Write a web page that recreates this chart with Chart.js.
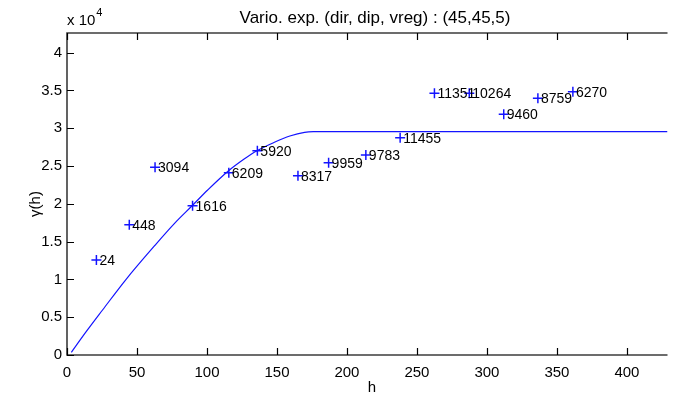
<!DOCTYPE html>
<html>
<head>
<meta charset="utf-8">
<script src="https://cdn.jsdelivr.net/npm/chart.js@4"></script>
<style>
html,body{margin:0;padding:0;background:#fff;}
canvas{display:block;}
</style>
</head>
<body>
<canvas id="c" width="674" height="402"></canvas>
<script>
// Experimental variogram points (lag distance h, gamma(h)) and pair counts
const lagH = [21.0, 44.5, 62.9, 89.7, 115.6, 136.0, 165.0, 186.9, 213.5, 238.0, 262.5, 287.4, 312.0, 336.4, 361.4];
const lagG = [12566, 17235, 24828, 19749, 24114, 27024, 23717, 25437, 26455, 28743, 34616, 34616, 31852, 33955, 34828];
const pairCounts = ["24", "448", "3094", "1616", "6209", "5920", "8317", "9959", "9783", "11455", "11351", "10264", "9460", "8759", "6270"];

// Fitted model curve
const modelH = [3.1, 13.7, 25.4, 41.8, 63.0, 77.0, 89.2, 100.5, 114.6, 126.3, 135.7, 147.5, 159.2, 169.7, 176, 429];
const modelG = [357, 3082, 5952, 9921, 14550, 17450, 19709, 21825, 24246, 25886, 27024, 28082, 28968, 29458, 29540, 29540];

const xTickValues = [0, 50, 100, 150, 200, 250, 300, 350, 400];
const yTickValues = [0, 5000, 10000, 15000, 20000, 25000, 30000, 35000, 40000];

const titleText = "Vario. exp. (dir, dip, vreg) : (45,45,5)";
const xLabel = "h";
const yLabel = "γ(h)";

const FONT = "'Liberation Sans', Arial, sans-serif";

const decorPlugin = {
  id: 'decor',
  afterDatasetsDraw(chart) {
    const ctx = chart.ctx;
    ctx.save();
    const meta = chart.getDatasetMeta(1);
    ctx.fillStyle = '#000';
    ctx.font = "14px " + FONT;
    ctx.textAlign = 'left';
    ctx.textBaseline = 'middle';
    meta.data.forEach((pt, i) => {
      ctx.fillText(pairCounts[i], pt.x + 3, pt.y + 1);
    });
    ctx.restore();
  },
  afterDraw(chart) {
    const ctx = chart.ctx;
    const a = chart.chartArea;
    const xs = chart.scales.x, ys = chart.scales.y;
    ctx.save();
    ctx.strokeStyle = '#3c3c3c';
    ctx.lineWidth = 1.6;
    ctx.beginPath();
    ctx.moveTo(a.right, a.top);
    ctx.lineTo(a.left, a.top);
    ctx.lineTo(a.left, a.bottom);
    ctx.lineTo(a.right, a.bottom);
    ctx.stroke();
    ctx.strokeStyle = '#000';
    ctx.lineWidth = 1.2;
    ctx.beginPath();
    xs.ticks.forEach(t => {
      const px = Math.round(xs.getPixelForValue(t.value)) + 0.5;
      ctx.moveTo(px, a.bottom); ctx.lineTo(px, a.bottom - 7);
      ctx.moveTo(px, a.top); ctx.lineTo(px, a.top + 7);
    });
    ys.ticks.forEach(t => {
      const py = Math.round(ys.getPixelForValue(t.value)) + 0.5;
      ctx.moveTo(a.left, py); ctx.lineTo(a.left + 7, py);
    });
    ctx.stroke();
    ctx.fillStyle = '#000';
    ctx.textAlign = 'center';
    ctx.textBaseline = 'middle';
    ctx.font = "17px " + FONT;
    ctx.fillText(titleText, 375, 18);
    ctx.font = "15px " + FONT;
    ctx.fillText(xLabel, 372, 388);
    ctx.textAlign = 'left';
    ctx.font = "15px " + FONT;
    ctx.fillText("x 10", 67, 21);
    const w = ctx.measureText("x 10").width;
    ctx.font = "11px " + FONT;
    ctx.fillText("4", 67 + w + 1, 13);
    ctx.save();
    ctx.translate(36, 204);
    ctx.rotate(-Math.PI / 2);
    ctx.textAlign = 'center';
    ctx.font = "15px " + FONT;
    ctx.fillText(yLabel, 0, 0);
    ctx.restore();
    ctx.restore();
  }
};

new Chart(document.getElementById('c'), {
  type: 'scatter',
  data: {
    datasets: [
      {
        data: modelH.map((h, i) => ({x: h, y: modelG[i]})),
        showLine: true,
        borderColor: 'rgb(20,20,255)',
        borderWidth: 1.2,
        pointRadius: 0,
        fill: false,
        cubicInterpolationMode: 'monotone'
      },
      {
        data: lagH.map((h, i) => ({x: h, y: lagG[i]})),
        showLine: false,
        pointStyle: 'cross',
        pointRadius: 5,
        pointBorderWidth: 1.5,
        borderColor: 'rgb(20,20,255)',
        backgroundColor: 'rgb(20,20,255)'
      }
    ]
  },
  options: {
    responsive: false,
    animation: false,
    events: [],
    layout: {padding: {top: 33, right: 0, left: 0, bottom: 0}},
    plugins: {legend: {display: false}, tooltip: {enabled: false}, title: {display: false}},
    scales: {
      x: {
        type: 'linear',
        min: 0,
        max: 429,
        afterBuildTicks(scale) { scale.ticks = xTickValues.map(v => ({value: v})); },
        afterFit(scale) { scale.height = 47; },
        grid: {display: false, drawTicks: false},
        border: {display: false},
        ticks: {
          autoSkip: false, maxRotation: 0, padding: 9,
          color: '#000',
          font: {family: FONT, size: 15},
          callback: v => String(v)
        }
      },
      y: {
        type: 'linear',
        min: 0,
        max: 42600,
        afterBuildTicks(scale) { scale.ticks = yTickValues.map(v => ({value: v})); },
        afterFit(scale) { scale.width = 67; },
        grid: {display: false, drawTicks: false},
        border: {display: false},
        ticks: {
          autoSkip: false, padding: 5,
          color: '#000',
          font: {family: FONT, size: 15},
          callback: v => String(v / 10000)
        }
      }
    }
  },
  plugins: [decorPlugin]
});
</script>
</body>
</html>
